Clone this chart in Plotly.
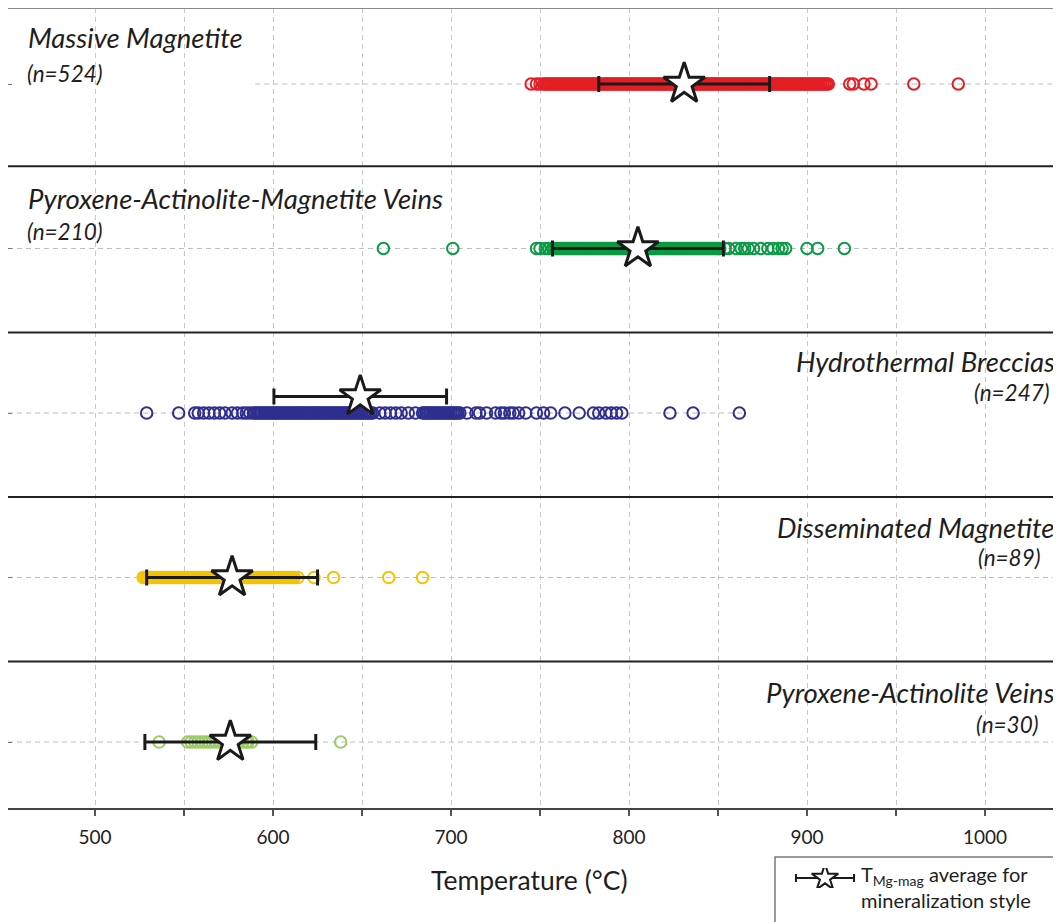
import plotly.graph_objects as go

# The page body has an 8px margin, so the figure is sized to fit inside it
OFF = 8
W, H = 1061 - OFF, 922 - OFF


def fx(xpage):
    return (xpage - OFF) / W


def fy(ypage):
    return (H - (ypage - OFF)) / H


# ---------------- data ----------------
categories = ["Massive Magnetite", "Pyroxene-Actinolite-Magnetite Veins",
              "Hydrothermal Breccias", "Disseminated Magnetite",
              "Pyroxene-Actinolite Veins"]
counts = [524, 210, 247, 89, 30]
row_pos = [4, 3, 2, 1, 0]

massive_magnetite = [745, 748, 750,
    752, 753, 754, 755, 756, 757, 758, 759, 760, 761, 762, 763, 764, 765, 766, 767, 768, 769,
    770, 771, 772, 773, 774, 775, 776, 777, 778, 779, 780, 781, 782, 783, 784, 785, 786, 787,
    788, 789, 790, 791, 792, 793, 794, 795, 796, 797, 798, 799, 800, 801, 802, 803, 804, 805,
    806, 807, 808, 809, 810, 811, 812, 813, 814, 815, 816, 817, 818, 819, 820, 821, 822, 823,
    824, 825, 826, 827, 828, 829, 830, 831, 832, 833, 834, 835, 836, 837, 838, 839, 840, 841,
    842, 843, 844, 845, 846, 847, 848, 849, 850, 851, 852, 853, 854, 855, 856, 857, 858, 859,
    860, 861, 862, 863, 864, 865, 866, 867, 868, 869, 870, 871, 872, 873, 874, 875, 876, 877,
    878, 879, 880, 881, 882, 883, 884, 885, 886, 887, 888, 889, 890, 891, 892, 893, 894, 895,
    896, 897, 898, 899, 900, 901, 902, 903, 904, 905, 906, 907, 908, 909, 910, 911, 912,
    924, 926, 932, 936, 960, 985]

pyx_act_mag_veins = [662, 701, 748, 750, 753, 755,
    757, 758, 759, 760, 761, 762, 763, 764, 765, 766, 767, 768, 769, 770, 771, 772, 773, 774,
    775, 776, 777, 778, 779, 780, 781, 782, 783, 784, 785, 786, 787, 788, 789, 790, 791, 792,
    793, 794, 795, 796, 797, 798, 799, 800, 801, 802, 803, 804, 805, 806, 807, 808, 809, 810,
    811, 812, 813, 814, 815, 816, 817, 818, 819, 820, 821, 822, 823, 824, 825, 826, 827, 828,
    829, 830, 831, 832, 833, 834, 835, 836, 837, 838, 839, 840, 841, 842, 843, 844, 845, 846,
    847, 848, 849, 850, 851,
    854, 856, 860, 863, 865, 867, 870, 874, 878, 881, 884, 886, 888, 900, 906, 921]

hydro_breccias = [529, 547, 556, 558, 561, 564, 567, 570, 573, 577, 580, 583, 585, 587,
    589, 590, 591, 592, 593, 594, 595, 596, 597, 598, 599, 600, 601, 602, 603, 604, 605, 606,
    607, 608, 609, 610, 611, 612, 613, 614, 615, 616, 617, 618, 619, 620, 621, 622, 623, 624,
    625, 626, 627, 628, 629, 630, 631, 632, 633, 634, 635, 636, 637, 638, 639, 640, 641, 642,
    643, 644, 645, 646, 647, 648, 649, 650, 651, 652, 653, 654, 655, 656,
    660, 663, 666, 669, 672, 676, 680,
    684, 685, 686, 687, 688, 689, 690, 691, 692, 693, 694, 695, 696, 697, 698, 699, 700, 701,
    702, 703, 704, 705,
    709, 714, 716, 720, 725, 728, 730, 733, 735, 738, 742, 748, 752, 756, 764, 772, 780, 783,
    787, 790, 793, 796, 823, 836, 862]

disseminated_magnetite = [527, 528, 529, 530, 531, 532, 533, 534, 535, 536, 537, 538, 539,
    540, 541, 542, 543, 544, 545, 546, 547, 548, 549, 550, 551, 552, 553, 554, 555, 556, 557,
    558, 559, 560, 561, 562, 563, 564, 565, 566, 567, 568, 569, 570, 571, 572, 573, 574, 575,
    576, 577, 578, 579, 580, 581, 582, 583, 584, 585, 586, 587, 588, 589, 590, 591, 592, 593,
    594, 595, 596, 597, 598, 599, 600, 601, 602, 603, 604, 605, 606, 607, 608, 609, 610, 611,
    612, 614, 623, 634, 665, 684]

pyx_act_veins = [536, 552, 554, 556, 558, 560, 562, 564, 566, 568, 570, 572, 574, 575, 577,
    579, 581, 583, 585, 586, 588, 638]

series = [massive_magnetite, pyx_act_mag_veins, hydro_breccias,
          disseminated_magnetite, pyx_act_veins]

means = [831, 805, 649, 577, 576]
sds = [48, 48, 48.5, 48, 48]
star_offsets = [0, 0, 0.1, 0, 0]

tick_vals = [500, 600, 700, 800, 900, 1000]
tick_text = ["500", "600", "700", "800", "900", "1000"]

# ---------------- styles ----------------
colors = ["#e31e25", "#0b9a44", "#2e2f8f", "#f5c300", "#9dcb6a"]
FONT = "Lato"
TXT = "#1e1e1e"
# label layout: (side, title yshift px, n yshift px, n right-edge page px)
label_layout = [("left", 47, 11, None), ("left", 50, 17, None),
                ("right", 52, 21, 1052), ("right", 50, 20, 1043),
                ("right", 50, 18, 1041)]

X_RANGE = [451.1, 1042.7]
Y_RANGE = [-0.401, 4.462]

fig = go.Figure()

for vals, col, yp in zip(series, colors, row_pos):
    fig.add_trace(go.Scatter(
        x=vals, y=[yp] * len(vals), mode="markers",
        marker=dict(symbol="circle-open", size=11.5, color=col,
                    line=dict(width=2, color=col)),
        showlegend=False, hoverinfo="x"))

# error bars (drawn before stars so stars sit on top)
for m, s, yp, off in zip(means, sds, row_pos, star_offsets):
    fig.add_trace(go.Scatter(
        x=[m], y=[yp + off], mode="markers",
        marker=dict(size=1, color="rgba(0,0,0,0)"),
        error_x=dict(type="data", array=[s], symmetric=True,
                     color="#1a1a1a", thickness=3, width=8),
        showlegend=False, hoverinfo="skip"))

for m, yp, off in zip(means, row_pos, star_offsets):
    fig.add_trace(go.Scatter(
        x=[m], y=[yp + off], mode="markers",
        marker=dict(symbol="star", size=31, color="white",
                    line=dict(width=3, color="#1a1a1a")),
        showlegend=False, hoverinfo="x"))

# legend key (separate small axis)
fig.add_trace(go.Scatter(
    x=[0.5], y=[0.5], mode="markers", xaxis="x2", yaxis="y2",
    marker=dict(size=1, color="rgba(0,0,0,0)"),
    error_x=dict(type="data", array=[0.44], symmetric=True,
                 color="#1a1a1a", thickness=2, width=4),
    showlegend=False, hoverinfo="skip"))
fig.add_trace(go.Scatter(
    x=[0.5], y=[0.5], mode="markers", xaxis="x2", yaxis="y2",
    marker=dict(symbol="star", size=20, color="white",
                line=dict(width=2, color="#1a1a1a")),
    showlegend=False, hoverinfo="skip"))

# ---------------- shapes ----------------
shapes = []
grid_extent = [(590, X_RANGE[1]), (X_RANGE[0], X_RANGE[1]), (X_RANGE[0], 864),
               (X_RANGE[0], X_RANGE[1]), (X_RANGE[0], X_RANGE[1])]
for (gx0, gx1), yp in zip(grid_extent, row_pos):
    shapes.append(dict(type="line", xref="x", yref="y", x0=gx0, x1=gx1, y0=yp, y1=yp,
                       line=dict(color="#bdbdbd", width=1, dash="5px,4px"), layer="below"))
for ys in [3.5, 2.49, 1.49, 0.49]:
    shapes.append(dict(type="line", xref="paper", yref="y", x0=0, x1=1,
                       y0=ys, y1=ys, line=dict(color="#222222", width=2)))
shapes.append(dict(type="line", xref="paper", yref="paper", x0=0, x1=1,
                   y0=1, y1=1, line=dict(color="#8a8a8a", width=2)))
shapes.append(dict(type="rect", xref="paper", yref="paper", x0=fx(775), x1=1.02,
                   y0=-0.02, y1=fy(857), line=dict(color="#7a7a7a", width=1.5),
                   fillcolor="rgba(0,0,0,0)"))

# ---------------- annotations ----------------
ann = []
for name, n, yp, (side, ts, ns, nx) in zip(categories, counts, row_pos, label_layout):
    if side == "left":
        ann.append(dict(x=fx(26), xref="paper", y=yp, yref="y", yshift=ts,
                        text=f"<i>{name}</i>", showarrow=False, xanchor="left",
                        yanchor="middle", font=dict(family=FONT, size=27.5, color=TXT)))
        ann.append(dict(x=fx(25), xref="paper", y=yp, yref="y", yshift=ns,
                        text=f"<i>(n={n})</i>", showarrow=False, xanchor="left",
                        yanchor="middle", font=dict(family=FONT, size=22.5, color=TXT)))
    else:
        ann.append(dict(x=fx(1057), xref="paper", y=yp, yref="y", yshift=ts,
                        text=f"<i>{name}</i>", showarrow=False, xanchor="right",
                        yanchor="middle", font=dict(family=FONT, size=27.5, color=TXT)))
        ann.append(dict(x=fx(nx), xref="paper", y=yp, yref="y", yshift=ns,
                        text=f"<i>(n={n})</i>", showarrow=False, xanchor="right",
                        yanchor="middle", font=dict(family=FONT, size=22.5, color=TXT)))

ann.append(dict(x=fx(529), xref="paper", y=fy(880), yref="paper",
                text="Temperature (°C)", showarrow=False, xanchor="center",
                yanchor="middle", font=dict(family=FONT, size=26.5, color=TXT)))
ann.append(dict(x=fx(859), xref="paper", y=fy(887), yref="paper",
                text="T<sub>Mg-mag</sub> average for<br>mineralization style",
                showarrow=False, xanchor="left", yanchor="middle", align="left",
                font=dict(family=FONT, size=20, color=TXT)))

fig.update_layout(
    width=W, height=H,
    margin=dict(l=0, r=0, t=0, b=0),
    paper_bgcolor="white", plot_bgcolor="white",
    showlegend=False,
    shapes=shapes, annotations=ann,
    xaxis=dict(domain=[0, 1], range=X_RANGE, tickvals=tick_vals, ticktext=tick_text,
               ticks="outside", ticklen=6, tickwidth=1.5, tickcolor="#555",
               showline=True, linecolor="#444", linewidth=2,
               showgrid=True, gridcolor="#c8c8c8", gridwidth=1, griddash="5px,4px",
               minor=dict(dtick=50, tick0=450, ticks="outside", ticklen=6, tickwidth=1.5,
                          tickcolor="#555", showgrid=True, gridcolor="#c8c8c8",
                          griddash="5px,4px", gridwidth=1),
               tickfont=dict(family=FONT, size=19, color="#222"), ticklabelstandoff=5,
               zeroline=False, automargin=False),
    yaxis=dict(domain=[fy(808), 1], range=Y_RANGE,
               tickvals=row_pos, showticklabels=False, ticks="inside", ticklen=4,
               tickcolor="#777", tickwidth=1, showgrid=False, zeroline=False,
               showline=True, linecolor="#777", linewidth=2, automargin=False),
    xaxis2=dict(domain=[fx(792), fx(858)], range=[0, 1], visible=False, anchor="y2"),
    yaxis2=dict(domain=[fy(888), fy(868)], range=[0, 1], visible=False, anchor="x2"),
)

fig.write_html("out.html", config={"displayModeBar": False})
